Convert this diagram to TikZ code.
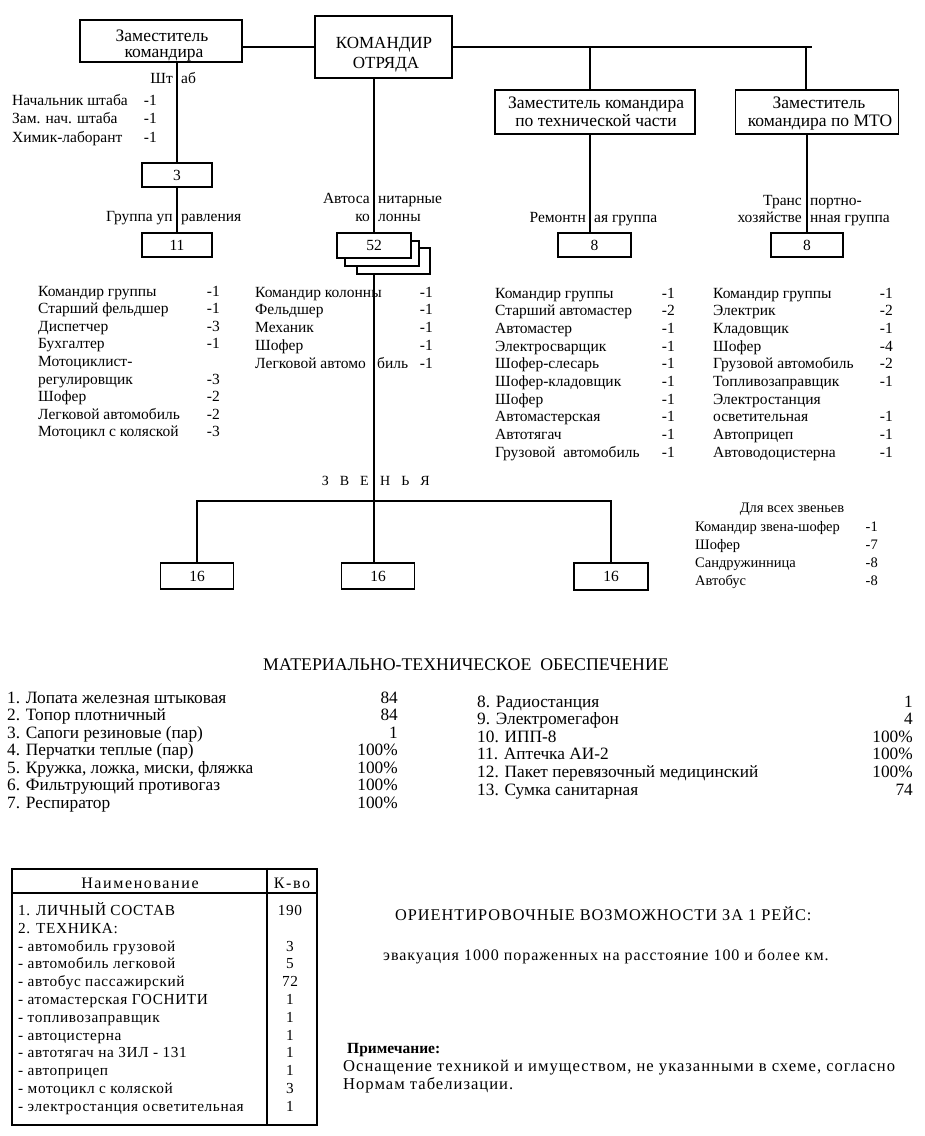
\documentclass[tikz,border=0pt]{standalone}
\usepackage{fontspec}
\setmainfont{Liberation Serif}
\newfontfamily\spaced[LetterSpace=10]{Liberation Serif}
\newfontfamily\spacedt[LetterSpace=4]{Liberation Serif}
\newfontfamily\spacedb[LetterSpace=6]{Liberation Serif}
\newfontfamily\spacedc[LetterSpace=6]{Liberation Serif}
\usetikzlibrary{calc}
\begin{document}
\begin{tikzpicture}[x=1pt,y=-1pt,
  ln/.style={line width=1.6pt},
  bx/.style={draw, line width=1.6pt, fill=white, inner sep=0pt, font=\fontsize{15.5}{17}\selectfont},
  tx/.style={inner sep=0pt, font=\fontsize{15.5}{17}\selectfont},
  tb/.style={inner sep=0pt, font=\fontsize{17.5}{19}\selectfont},
  tm/.style={inner sep=0pt, font=\fontsize{17.3}{19}\selectfont},
  tz/.style={inner sep=0pt, font=\fontsize{14.5}{17}\selectfont},
  tt/.style={inner sep=0pt, font=\fontsize{15.3}{17}\spacedt},
  tn/.style={inner sep=0pt, font=\fontsize{14}{17}\selectfont}]
\useasboundingbox (0,0) rectangle (925,1136);

% ---------- top boxes ----------
\node[bx, minimum width=162pt, minimum height=42pt] (zam) at (161,41) {};
\node[tb, anchor=base] (zam1) at (162,41.5) {Заместитель};
\node[tb, anchor=base] (zam2) at (164,57) {командира};

\node[bx, minimum width=137pt, minimum height=62pt] (cmd) at (383.5,47) {};
\node[inner sep=0pt, font=\fontsize{17}{19}\selectfont, anchor=base] (cmd1) at (384,48.5) {КОМАНДИР};
\node[inner sep=0pt, font=\fontsize{17}{19}\selectfont, anchor=base] (cmd2) at (386,68) {ОТРЯДА};

\node[bx, minimum width=200pt, minimum height=44pt] (tech) at (595,112) {};
\node[tb, anchor=base] (tech1) at (596,108.5) {Заместитель командира};
\node[tb, anchor=base] (tech2) at (596,126.5) {по технической части};

\node[bx, minimum width=163pt, minimum height=44pt] (mto) at (817,112) {};
\node[tb, anchor=base] (mto1) at (819,108.5) {Заместитель};
\node[tb, anchor=base] (mto2) at (820,126.5) {командира по МТО};

% ---------- small boxes ----------
\node[bx, minimum width=70pt, minimum height=24pt] (b3) at (177,175) {3};
\node[bx, minimum width=70pt, minimum height=24pt] (b11) at (177,245) {11};
\node[bx, minimum width=73pt, minimum height=26pt] (b52c) at (393.5,261) {};
\node[bx, minimum width=74pt, minimum height=25pt] (b52b) at (382,253.5) {};
\node[bx, minimum width=74pt, minimum height=25pt] (b52) at (374,245.5) {52};
\node[bx, minimum width=73pt, minimum height=24pt] (r8) at (594.5,245) {8};
\node[bx, minimum width=72pt, minimum height=24pt] (m8) at (807,245) {8};

\node[bx, minimum width=73pt, minimum height=26pt] (z1) at (197,576) {16};
\node[bx, minimum width=73pt, minimum height=26pt] (z2) at (378,576) {16};
\node[bx, minimum width=74pt, minimum height=27pt] (z3) at (611,576.5) {16};

% ---------- connectors ----------
\coordinate (tr) at (812,47);
\coordinate (hl) at (196,501);
\draw[ln] (cmd.west) -- (cmd.west -| zam.east);
\draw[ln] (cmd.east) -- (tr);
\draw[ln] ([xshift=-5pt]tech.north) -- ([xshift=-5pt]tech.north |- tr);
\draw[ln] ([xshift=-11pt]mto.north) -- ([xshift=-11pt]mto.north |- tr);
\draw[ln] ([xshift=-5pt]tech.south) -- ([xshift=-5pt]tech.south |- r8.north);
\draw[ln] (m8.north) -- (m8.north |- mto.south);
\draw[ln] (b3.north) -- (b3.north |- zam.south);
\draw[ln] (b3.south) -- (b11.north);
\draw[ln] (b52.north) -- (b52.north |- cmd.south);
\draw[ln] (b52.south |- b52c.south) -- (b52.south |- hl);
\draw[ln] (z1.north) -- (z1.north |- hl) -- (z3.north |- hl) -- (z3.north);
\draw[ln] (b52.south |- hl) -- (b52.south |- z2.north);

% ---------- labels on lines ----------
\node[tx, anchor=base east] (sht1) at (173,83) {Шт};
\node[tx, anchor=base west] (sht2) at (181,83) {аб};
\node[tx, anchor=base east] (gu1) at (173,221) {Группа уп};
\node[tx, anchor=base west] (gu2) at (181,221) {равления};
\node[tx, anchor=base east] (as1) at (370,203) {Автоса};
\node[tx, anchor=base west] (as2) at (378,203) {нитарные};
\node[tx, anchor=base east] (ak1) at (370,221) {ко};
\node[tx, anchor=base west] (ak2) at (378,221) {лонны};
\node[tx, anchor=base east] (rg1) at (586,222) {Ремонтн};
\node[tx, anchor=base west] (rg2) at (594,222) {ая группа};
\node[tx, anchor=base east] (tg1) at (802,205) {Транс};
\node[tx, anchor=base west] (tg2) at (810,205) {портно-};
\node[tx, anchor=base east] (tg3) at (802,222.5) {хозяйстве};
\node[tx, anchor=base west] (tg4) at (810,222.5) {нная группа};
\node[tn, anchor=base east] (zv1) at (369,485) {З\hspace{11pt}В\hspace{11pt}Е};
\node[tn, anchor=base west] (zv2) at (380,485) {Н\hspace{11pt}Ь\hspace{11pt}Я};

% ---------- staff list ----------
\foreach \n/\v [count=\i from 0] in {Начальник штаба/-1, Зам. нач. штаба/-1, Химик-лаборант/-1} {
  \node[tx, anchor=base west] (st\i) at (12,{105+18.5*\i}) {\n};
  \node[tx, anchor=base east] (sv\i) at (157,{105+18.5*\i}) {\v};
}

% ---------- group list ----------
\foreach \n/\v [count=\i from 0] in {Командир группы/-1, Старший фельдшер/-1, Диспетчер/-3, Бухгалтер/-1, Мотоциклист-/{}, регулировщик/-3, Шофер/-2, Легковой автомобиль/-2, Мотоцикл с коляской/-3} {
  \node[tx, anchor=base west] (gl\i) at (38,{296+17.6*\i}) {\n};
  \node[tx, anchor=base east] (gv\i) at (220,{296+17.6*\i}) {\v};
}

% ---------- column list ----------
\foreach \n/\v [count=\i from 0] in {Командир колонны/-1, Фельдшер/-1, Механик/-1, Шофер/-1} {
  \node[tx, anchor=base west] (cl\i) at (255,{297+17.8*\i}) {\n};
  \node[tx, anchor=base east] (cv\i) at (433,{297+17.8*\i}) {\v};
}
\node[tx, anchor=base west] (cl4) at (255,368.2) {Легковой автомо};
\node[tx, anchor=base west] (cl4b) at (377,368.2) {биль};
\node[tx, anchor=base east] (cv4) at (433,368.2) {-1};

% ---------- repair list ----------
\foreach \n/\v [count=\i from 0] in {Командир группы/-1, Старший автомастер/-2, Автомастер/-1, Электросварщик/-1, Шофер-слесарь/-1, Шофер-кладовщик/-1, Шофер/-1, Автомастерская/-1, Автотягач/-1, Грузовой\ \ автомобиль/-1} {
  \node[tx, anchor=base west] (rl\i) at (495,{298+17.7*\i}) {\n};
  \node[tx, anchor=base east] (rv\i) at (675,{298+17.7*\i}) {\v};
}

% ---------- MTO list ----------
\foreach \n/\v [count=\i from 0] in {Командир группы/-1, Электрик/-2, Кладовщик/-1, Шофер/-4, Грузовой автомобиль/-2, Топливозаправщик/-1, Электростанция/{}, осветительная/-1, Автоприцеп/-1, Автоводоцистерна/-1} {
  \node[tx, anchor=base west] (ml\i) at (713,{298+17.7*\i}) {\n};
  \node[tx, anchor=base east] (mv\i) at (893,{298+17.7*\i}) {\v};
}

% ---------- links ----------
\node[tz, anchor=base] (all) at (792,512) {Для всех звеньев};
\foreach \n/\v [count=\i from 0] in {Командир звена-шофер/-1, Шофер/-7, Сандружинница/-8, Автобус/-8} {
  \node[tz, anchor=base west] (al\i) at (695,{531+18.3*\i}) {\n};
  \node[tz, anchor=base east] (av\i) at (878,{531+18.3*\i}) {\v};
}

% ---------- material ----------
\node[inner sep=0pt, font=\fontsize{17.8}{19}\selectfont, anchor=base west] (mat) at (263,670) {МАТЕРИАЛЬНО-ТЕХНИЧЕСКОЕ\ \ ОБЕСПЕЧЕНИЕ};
\foreach \n/\v [count=\i from 0] in {1. Лопата железная штыковая/84, 2. Топор плотничный/84, 3. Сапоги резиновые (пар)/1, 4. Перчатки теплые (пар)/100\%, {5. Кружка, ложка, миски, фляжка}/100\%, 6. Фильтрующий противогаз/100\%, 7. Респиратор/100\%} {
  \node[tm, anchor=base west] (ma\i) at (7,{703+17.5*\i}) {\n};
  \node[tm, anchor=base east] (mb\i) at (398,{703+17.5*\i}) {\v};
}
\foreach \n/\v [count=\i from 0] in {8. Радиостанция/1, 9. Электромегафон/4, 10. ИПП-8/100\%, 11. Аптечка АИ-2/100\%, 12. Пакет перевязочный медицинский/100\%, 13. Сумка санитарная/74} {
  \node[tm, anchor=base west] (mc\i) at (477,{707+17.6*\i}) {\n};
  \node[tm, anchor=base east] (md\i) at (913,{707+17.6*\i}) {\v};
}

% ---------- table ----------
\node[draw, line width=2.2pt, inner sep=0pt, minimum width=305pt, minimum height=256pt] (tbl) at (164.5,997) {};
\draw[line width=1.4pt] (tbl.north west |- 0,893) coordinate (hd) -- (tbl.east |- hd);
\draw[line width=1.4pt] (tbl.north -| 267,0) coordinate (cd) -- (tbl.south -| cd);
\node[inner sep=0pt, font=\fontsize{16}{18}\spaced, anchor=base] (th1) at (140,888) {Наименование};
\node[inner sep=0pt, font=\fontsize{16}{18}\spaced, anchor=base] (th2) at (292,888) {К-во};
\foreach \n/\v [count=\i from 0] in {1. ЛИЧНЫЙ СОСТАВ/190, 2. ТЕХНИКА:/{}, - автомобиль грузовой/3, - автомобиль легковой/5, - автобус пассажирский/72, - атомастерская ГОСНИТИ/1, - топливозаправщик/1, - автоцистерна/1, - автотягач на ЗИЛ - 131/1, - автоприцеп/1, - мотоцикл с коляской/3, - электростанция осветительная/1} {
  \node[tt, anchor=base west] (tr\i) at (18,{915.5+17.8*\i}) {\n};
  \node[tt, anchor=base] (tv\i) at (290,{915.5+17.8*\i}) {\v};
}

% ---------- bottom right ----------
\node[inner sep=0pt, font=\fontsize{16.3}{18}\spacedb, anchor=base west] (ori) at (395,920) {ОРИЕНТИРОВОЧНЫЕ ВОЗМОЖНОСТИ ЗА 1 РЕЙС:};
\node[inner sep=0pt, font=\fontsize{16}{18}\spacedc, anchor=base west] (eva) at (383,960) {эвакуация 1000 пораженных на расстояние 100 и более км.};
\node[inner sep=0pt, font=\fontsize{15.5}{18}\bfseries, anchor=base west] (pri) at (347,1053) {Примечание:};
\node[inner sep=0pt, font=\fontsize{16.6}{18}\spacedc, anchor=base west] (os1) at (343,1071) {Оснащение техникой и имуществом, не указанными в схеме, согласно};
\node[inner sep=0pt, font=\fontsize{16.6}{18}\spacedc, anchor=base west] (os2) at (343,1089) {Нормам табелизации.};
\end{tikzpicture}
\end{document}
